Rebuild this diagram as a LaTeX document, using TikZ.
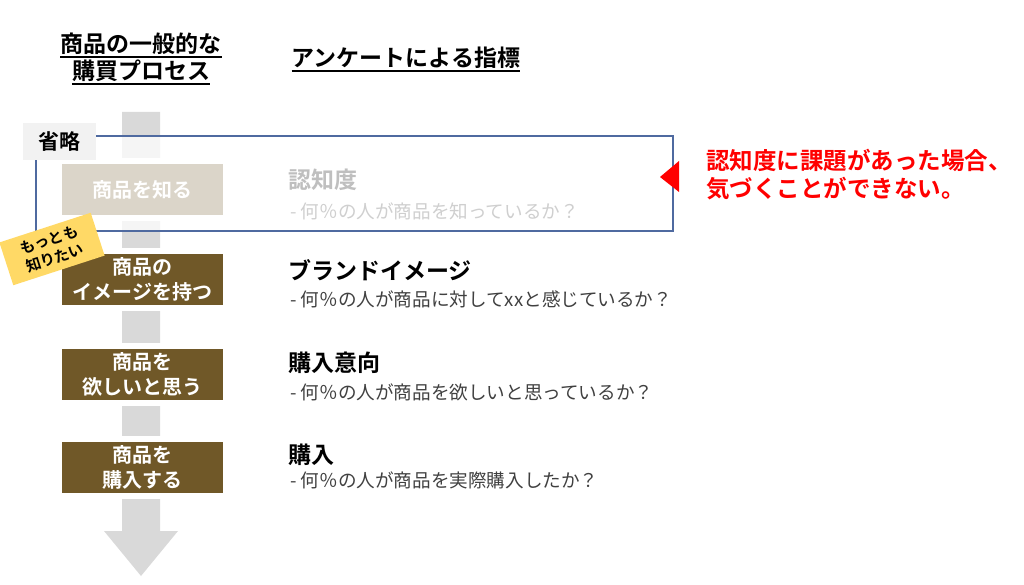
\documentclass[tikz,border=0pt]{standalone}
\usepackage{fontspec}
\setmainfont{Noto Sans CJK JP}[BoldFont={Noto Sans CJK JP Bold}]
\usetikzlibrary{positioning}

\definecolor{stepbrown}{RGB}{112,88,40}
\definecolor{flowgray}{RGB}{217,217,217}
\definecolor{skipblue}{RGB}{79,106,160}
\definecolor{tagyellow}{RGB}{255,217,102}
\definecolor{subgray}{RGB}{64,64,64}
\definecolor{notered}{RGB}{255,0,0}

\tikzset{
  stepbox/.style={fill=stepbrown, draw=white, line width=6pt, outer sep=0pt, inner sep=0pt,
    minimum width=167pt, minimum height=57pt, text=white, align=center,
    font=\fontsize{20}{25}\selectfont\bfseries},
  headline/.style={inner xsep=0pt, inner ysep=2pt, font=\fontsize{23}{28}\selectfont\bfseries},
  uline/.style={line width=1.6pt},
  metric/.style={anchor=west, inner sep=0pt, font=\fontsize{23}{27}\selectfont\bfseries},
  detail/.style={anchor=west, inner sep=0pt, text=subgray, font=\fontsize{18.6}{22}\selectfont}
}

\begin{document}
\begin{tikzpicture}[x=1pt, y=-1pt]
\useasboundingbox (0,0) rectangle (1024,585);

% flow arrow behind the steps
\fill[flowgray] (122,112) -- (160,112) -- (160,531) -- (178,531) -- (141,576)
  -- (104,531) -- (122,531) -- cycle;

% headings
\node[headline] (proc1) at (141,44) {商品の一般的な};
\node[headline] (proc2) at (141,71) {購買プロセス};
\node[headline] (survey) at (406,58) {アンケートによる指標};
\draw[uline] (proc1.south west) -- (proc1.south east);
\draw[uline] (proc2.south west) -- (proc2.south east);
\draw[uline] (survey.south west) -- (survey.south east);

% process steps
\node[stepbox] (know) at (142.5,190) {商品を知る};
\node[stepbox, below=32.5pt of know] (image) {商品の\\イメージを持つ};
\node[stepbox, below=38pt of image] (want) {商品を\\欲しいと思う};
\node[stepbox, below=36pt of want] (buy) {商品を\\購入する};

% survey metrics
\node[metric] (mknow) at (288,180) {認知度};
\node[detail] (dknow) at (290,211) {- 何％の人が商品を知っているか？};
\node[metric] (mimage) at (288,270) {ブランドイメージ};
\node[detail] (dimage) at (290,299) {- 何％の人が商品に対してxxと感じているか？};
\node[metric] (mwant) at (288,363) {購入意向};
\node[detail] (dwant) at (290,392) {- 何％の人が商品を欲しいと思っているか？};
\node[metric] (mbuy) at (288,455) {購入};
\node[detail] (dbuy) at (290,480) {- 何％の人が商品を実際購入したか？};

% skipped part
\node[draw=skipblue, line width=1.3pt, fill=white, fill opacity=0.75, minimum width=637pt,
  minimum height=95pt, inner sep=0pt] (skip) at (354.5,183.5) {};
\node[fill=black!5, minimum width=73pt, minimum height=37pt, inner sep=0pt,
  font=\fontsize{21}{25}\selectfont\bfseries] (omit) at (59.5,141.5) {省略};

% note
\fill[notered] (660,177) -- (679,161) -- (679,192) -- cycle;
\node[anchor=west, inner sep=0pt, align=left, text=notered,
  font=\fontsize{23.5}{28}\selectfont\bfseries] (note) at (706,175)
  {認知度に課題があった場合、\\気づくことができない。};

% tag
\node[fill=tagyellow, rotate=18, minimum width=96pt, minimum height=45pt, inner sep=0pt,
  align=center, font=\fontsize{15}{19}\selectfont\bfseries] (tag) at (52,249)
  {もっとも\\知りたい};
\end{tikzpicture}
\end{document}
